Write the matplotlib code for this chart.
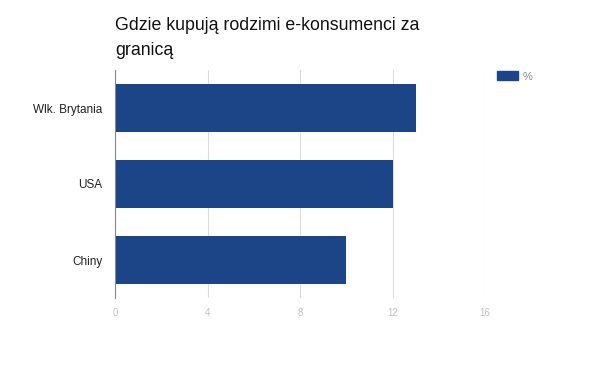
import matplotlib
matplotlib.use("Agg")
import matplotlib.pyplot as plt
from matplotlib.patches import Patch

plt.rcParams['font.family'] = ['Liberation Sans', 'DejaVu Sans']

countries = ["Wlk. Brytania", "USA", "Chiny"]
shares = [13, 12, 10]
xticks = [0, 4, 8, 12, 16]
series_name = "%"
title_lines = ["Gdzie kupują rodzimi e-konsumenci za", "granicą"]

BLUE = "#1c4587"

fig = plt.figure(figsize=(6, 3.71), dpi=100)
ax = fig.add_axes([115/600, 1 - 298/371, 370/600, 228/371])

ypos = list(range(len(countries)))
ax.barh(ypos, shares, height=0.63, color=BLUE, zorder=2)
ax.set_ylim(len(countries) - 0.5, -0.5)
ax.set_xlim(0, 16)
ax.set_yticks(ypos)
ax.set_yticklabels(countries, fontsize=8.5, color="#222222")
ax.set_xticks(xticks)
ax.set_xticklabels([str(t) for t in xticks], fontsize=7, color="#c0c0c0")
ax.tick_params(axis="y", length=0, pad=9)
ax.tick_params(axis="x", length=0, pad=7)
ax.grid(axis="x", color="#dcdcdc", lw=0.8, zorder=0)
for s in ["top", "right", "bottom"]:
    ax.spines[s].set_visible(False)
ax.spines["left"].set_color("#888888")
ax.spines["left"].set_linewidth(0.8)
ax.spines["left"].set_zorder(3)

# title, one line per text so the baselines land where they should
for i, line in enumerate(title_lines):
    fig.text(115/600, 1 - (30 + 25 * i)/371, line, fontsize=12.8,
             color="#111111", ha="left", va="baseline")

leg = fig.legend(handles=[Patch(color=BLUE, label=series_name)],
                 loc="upper left", bbox_to_anchor=(495/600, 1 - 69/371),
                 frameon=False, fontsize=8, handlelength=1.9, handleheight=0.9,
                 handletextpad=0.4, borderaxespad=0, borderpad=0.2)
for t in leg.get_texts():
    t.set_color("#888888")

fig.savefig("out.png", dpi=100)
